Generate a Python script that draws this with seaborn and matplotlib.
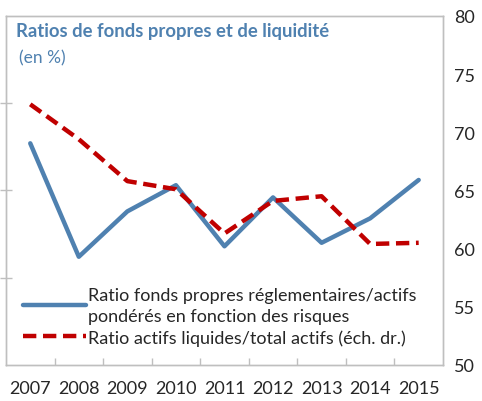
import numpy as np
import pandas as pd
import matplotlib
matplotlib.use("Agg")
import matplotlib.pyplot as plt
from matplotlib.lines import Line2D
import seaborn as sns

years = ["2007", "2008", "2009", "2010", "2011", "2012", "2013", "2014", "2015"]
fonds_propres = [22.7, 16.2, 18.8, 20.3, 16.8, 19.6, 17.0, 18.4, 20.6]
actifs_liquides = [72.4, 69.4, 65.8, 65.1, 61.3, 64.1, 64.5, 60.4, 60.5]

label_fp = "Ratio fonds propres réglementaires/actifs\npondérés en fonction des risques"
label_al = "Ratio actifs liquides/total actifs (éch. dr.)"

blue = "#4F81B0"
red = "#C00000"
grey = "#BFBFBF"
text_col = "#262626"

sns.set_style("white")
plt.rcParams["font.family"] = ["Lato", "DejaVu Sans"]

df = pd.DataFrame({"x": np.arange(len(years)),
                   "fp": fonds_propres,
                   "al": actifs_liquides})

fig = plt.figure(figsize=(4.82, 4.02), dpi=100)
ax = fig.add_axes([0.0124, 0.0896, 0.9066, 0.8684])
ax2 = ax.twinx()

sns.lineplot(data=df, x="x", y="fp", ax=ax, color=blue, linewidth=3.2)
sns.lineplot(data=df, x="x", y="al", ax=ax2, color=red, linewidth=3.2)
ax2.lines[0].set_dashes([3.0, 1.5])

ax.set_xlim(-0.5, len(years) - 0.5)
ax.set_ylim(10, 30)
ax2.set_ylim(50, 80)

# x axis: labels at categories, tick marks between them
ax.set_xticks(np.arange(len(years)))
ax.set_xticklabels(years, fontsize=13, color=text_col)
ax.set_xticks(np.arange(0.5, len(years) - 1, 1), minor=True)
ax.tick_params(axis="x", which="major", length=0, pad=11)
ax.tick_params(axis="x", which="minor", direction="in", length=5,
               color=grey, width=1, bottom=True)

# left axis: tick marks only
ax.set_yticks([15, 20, 25])
ax.set_yticklabels([])
ax.tick_params(axis="y", direction="inout", length=8, color=grey, width=1,
               left=True)

# right axis
ax2.set_yticks(np.arange(50, 81, 5))
ax2.tick_params(axis="y", length=0, pad=8, labelsize=13,
                labelcolor=text_col)

for a in (ax, ax2):
    a.set_xlabel("")
    a.set_ylabel("")
    for sp in a.spines.values():
        sp.set_color(grey)
        sp.set_linewidth(1)

ax.text(0.023, 0.983, "Ratios de fonds propres et de liquidité",
        transform=ax.transAxes, fontsize=13.3, fontweight="bold", color=blue,
        va="top", ha="left")
ax.text(0.03, 0.905, "(en %)", transform=ax.transAxes, fontsize=12.5,
        color=blue, va="top", ha="left")

handles = [Line2D([], [], color=blue, linewidth=3.2),
           Line2D([], [], color=red, linewidth=3.2, dashes=[3.0, 1.5])]
leg = ax2.legend(handles, [label_fp, label_al], loc="lower left",
                 bbox_to_anchor=(0.022, 0.035), frameon=False, fontsize=13,
                 handlelength=3.5, handletextpad=0.12, labelspacing=0.3,
                 borderaxespad=0)
for t in leg.get_texts():
    t.set_color(text_col)
    t.set_linespacing(1.35)

fig.savefig("out.png", dpi=100)
